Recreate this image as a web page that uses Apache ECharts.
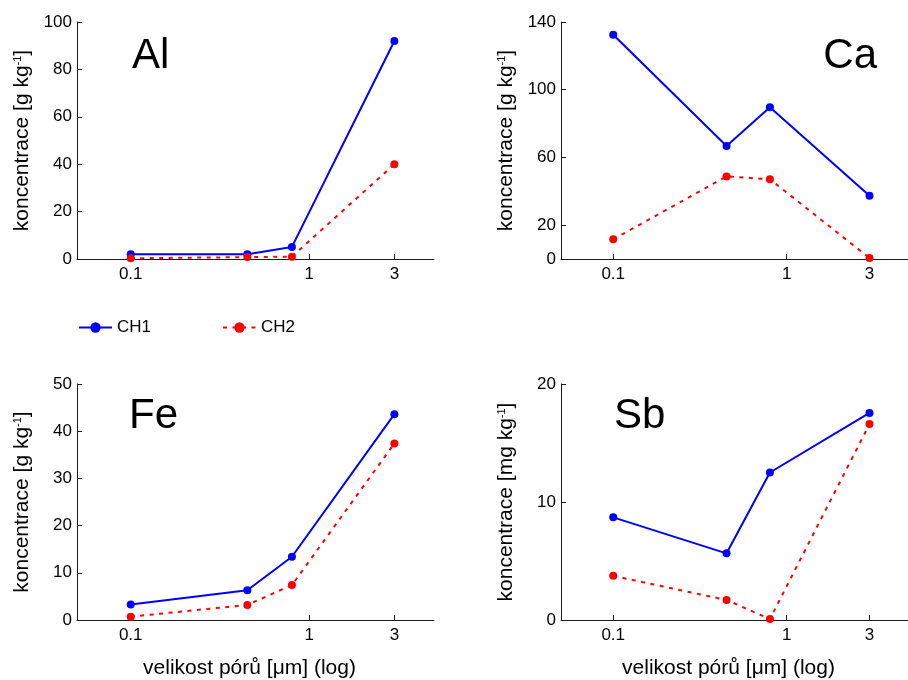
<!DOCTYPE html>
<html><head><meta charset="utf-8">
<script src="https://cdn.jsdelivr.net/npm/echarts@6/dist/echarts.min.js"></script>
<style>html,body{margin:0;padding:0;background:#fff}#c{width:908px;height:680px}</style>
</head><body><div id="c"></div>
<script>
// ---- data ----
const xVals = [0.1, 0.45, 0.8, 3];
const xTicks = [0.1, 1, 3];
const seriesNames = ['CH1', 'CH2'];
const panelNames = ['Al', 'Ca', 'Fe', 'Sb'];
const alCH1 = [2.0, 2.0, 5.1, 92.0];
const alCH2 = [0.3, 0.8, 1.0, 40.0];
const caCH1 = [132.5, 66.7, 89.6, 37.4];
const caCH2 = [11.6, 48.8, 47.1, 0.6];
const feCH1 = [3.3, 6.3, 13.4, 43.6];
const feCH2 = [0.7, 3.2, 7.4, 37.4];
const sbCH1 = [8.7, 5.65, 12.5, 17.55];
const sbCH2 = [3.74, 1.7, 0.08, 16.6];
const alTicks = [0, 20, 40, 60, 80, 100];
const caTicks = [0, 20, 60, 100, 140];
const feTicks = [0, 10, 20, 30, 40, 50];
const sbTicks = [0, 10, 20];
const yNames = ['koncentrace [g kg{sup|-1}]', 'koncentrace [g kg{sup|-1}]', 'koncentrace [g kg{sup|-1}]', 'koncentrace [mg kg{sup|-1}]'];
const xName = 'velikost pórů [μm] (log)';

// ---- layout ----
const FONT = 'Liberation Sans, Arial, sans-serif';
const grids = [
  {left: 77, top: 22, width: 357, height: 237},
  {left: 561, top: 22, width: 356, height: 237},
  {left: 77, top: 384, width: 357, height: 237},
  {left: 561, top: 384, width: 356, height: 237}
];
const yTickSets = [alTicks, caTicks, feTicks, sbTicks];
const dataSets = [[alCH1, alCH2], [caCH1, caCH2], [feCH1, feCH2], [sbCH1, sbCH2]];
const colors = ['#0000ff', '#ff0000'];

const axisLineStyle = {color: '#1a1a1a', width: 1};
const xAxes = grids.map((g, i) => ({
  type: 'log', gridIndex: i, min: 0.05, max: 5, logBase: 10,
  axisLine: {show: true, lineStyle: axisLineStyle},
  axisTick: {show: true, inside: true, length: 5, lineStyle: axisLineStyle, customValues: xTicks},
  axisLabel: {show: true, color: '#000', fontSize: 17, fontFamily: FONT, margin: 7, customValues: xTicks,
    formatter: v => String(Math.round(v * 100) / 100)},
  splitLine: {show: false}, minorTick: {show: false}, minorSplitLine: {show: false},
  name: i >= 2 ? xName : '', nameLocation: 'middle', nameGap: 38,
  nameTextStyle: {color: '#000', fontSize: 21, fontFamily: FONT, padding: [0, 12, 0, 0]}
}));
const yAxes = grids.map((g, i) => {
  const t = yTickSets[i];
  return {
    type: 'value', gridIndex: i, min: t[0], max: t[t.length - 1],
    axisLine: {show: true, lineStyle: axisLineStyle},
    axisTick: {show: true, inside: true, length: 5, lineStyle: axisLineStyle, customValues: t},
    axisLabel: {show: true, color: '#000', fontSize: 17, fontFamily: FONT, margin: 5, customValues: t},
    splitLine: {show: false},
    name: yNames[i], nameLocation: 'middle', nameGap: 44, nameRotate: 90,
    nameTextStyle: {color: '#000', fontSize: 21, fontFamily: FONT,
      rich: {sup: {fontSize: 11, fontFamily: FONT, color: '#000', verticalAlign: 'top', padding: [0, 0, 10, 0]}}}
  };
});
const series = [];
dataSets.forEach((pair, gi) => {
  pair.forEach((vals, si) => {
    series.push({
      type: 'line', name: seriesNames[si], xAxisIndex: gi, yAxisIndex: gi,
      data: xVals.map((x, k) => [x, vals[k]]),
      symbol: 'circle', symbolSize: 8, showSymbol: true,
      itemStyle: {color: colors[si]},
      lineStyle: {color: colors[si], width: 2, type: si === 0 ? 'solid' : [4, 5.5]},
      animation: false, clip: false
    });
  });
});
const labelPos = [
  {x: 132, y: 56, align: 'left'},
  {x: 877, y: 56, align: 'right'},
  {x: 129, y: 416, align: 'left'},
  {x: 614, y: 416, align: 'left'}
];
const graphic = panelNames.map((n, i) => ({
  type: 'text', x: labelPos[i].x, y: labelPos[i].y,
  style: {text: n, fill: '#000', font: '42px ' + FONT, textAlign: labelPos[i].align, textVerticalAlign: 'middle'}
}));

const chart = echarts.init(document.getElementById('c'), null, {renderer: 'canvas'});
chart.setOption({
  backgroundColor: '#fff',
  animation: false,
  grid: grids.map(g => Object.assign({containLabel: false}, g)),
  xAxis: xAxes, yAxis: yAxes, series: series,
  legend: {
    data: seriesNames, left: 73, top: 314, itemWidth: 33, itemHeight: 13, itemGap: 71,
    textStyle: {color: '#000', fontSize: 17, fontFamily: FONT}, selectedMode: false
  },
  graphic: graphic
});
</script></body></html>
